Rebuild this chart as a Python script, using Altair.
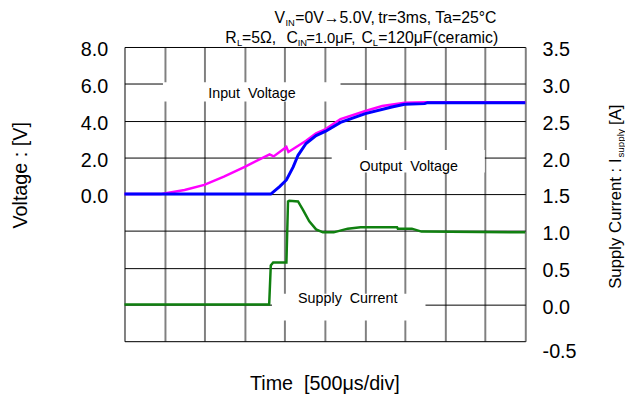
import altair as alt
import pandas as pd

FONT = "Liberation Sans"
NB = "\u00a0"

# time in divisions (500 us/div)
T_IN = [0, 0.9, 1.03, 1.50, 1.99, 2.48, 3.0, 3.62, 3.72, 4.04, 4.09, 4.53, 4.78, 5.02, 5.39, 6.01, 6.43, 6.99, 7.5, 10]
V_IN = [0, 0, 0.05, 0.22, 0.5, 0.95, 1.48, 2.16, 2.05, 2.56, 2.29, 2.9, 3.3, 3.54, 4.08, 4.52, 4.79, 4.97, 5.0, 5.0]

T_OUT = [0, 3.65, 3.87, 4.04, 4.21, 4.33, 4.53, 4.78, 5.02, 5.39, 6.01, 6.67, 6.99, 7.49, 7.56, 10]
V_OUT = [0, 0, 0.41, 0.77, 1.48, 2.11, 2.75, 3.18, 3.42, 3.9, 4.38, 4.74, 4.89, 4.92, 4.97, 4.97]

T_I = [0, 3.61, 3.65, 3.71, 4.04, 4.08, 4.11, 4.33, 4.45, 4.61, 4.78, 4.95, 5.22, 5.57, 5.89, 6.80, 6.82, 7.17, 7.41, 10]
I_S = [0, 0, 0.53, 0.57, 0.57, 1.40, 1.41, 1.40, 1.29, 1.13, 1.02, 0.98, 0.98, 1.03, 1.05, 1.05, 1.03, 1.03, 0.99, 0.98]

X_TICKS = list(range(11))
V_TICKS = [0, 2, 4, 6, 8]
A_TICKS = [-0.5, 0.0, 0.5, 1.0, 1.5, 2.0, 2.5, 3.0, 3.5]

# in-plot labels (x in div, y in A units) and their white boxes
LABELS = ["Input" + NB + " Voltage", "Output" + NB + " Voltage", "Supply" + NB + " Current"]
LABEL_X = [3.18, 7.09, 5.57]
LABEL_Y = [2.856, 1.862, 0.076]
BOX_X1 = [0.96, 5.17, 3.68]
BOX_X2 = [5.39, 8.99, 7.51]
BOX_Y1 = [2.76, 1.795, -0.218]
BOX_Y2 = [3.02, 2.10, 0.144]

# header pieces: text, x, y (px relative to plot area), font size
HEADER = [
    ("V", 152, -24, 16), ("IN", 163, -21, 9.5), ("=0V\u21925.0V,", 173, -24, 16),
    ("tr=3ms, Ta=25\u00b0C", 257, -24, 16),
    ("R", 102, -4, 16), ("L", 114, -1, 9.5), ("=5\u03a9,", 119, -4, 16), ("C", 164, -4, 16),
    ("IN", 175.5, -1, 9.5), ("=1.0\u03bcF,", 184, -4, 15), ("C", 240, -4, 16), ("L", 251.5, -1, 9.5),
    ("=120\u03bcF(ceramic)", 257, -4, 16),
]
RIGHT_TITLE = [("Supply Current : I", 503, 245, 17), ("supply", 505.5, 112, 10), ("[A]", 503, 79, 17)]

W, H = 406, 298

x_axis = alt.Axis(values=X_TICKS, labels=False, ticks=False, domain=False, grid=True,
                  gridColor="#808080", gridWidth=2, title=None)
x_scale = alt.Scale(domain=[0, 10], nice=False, zero=False)
v_axis = alt.Axis(orient="left", values=V_TICKS, format=".1f", grid=False, ticks=False, domain=False,
                  labelFont=FONT, labelFontSize=20, labelColor="black", labelPadding=17,
                  labelOffset=3, title=None)
v_scale = alt.Scale(domain=[-8, 8], nice=False, zero=False)
a_axis = alt.Axis(orient="right", values=A_TICKS, format=".1f", grid=True, gridColor="black",
                  gridWidth=1, ticks=False, domain=False, labelFont=FONT, labelFontSize=20,
                  labelColor="black", labelPadding=17,
                  labelExpr="replace(datum.label, '\u2212', '-')",
                  labelOffset={"condition": {"test": "datum.value < 0", "value": 11}, "value": 3},
                  title=None)
a_scale = alt.Scale(domain=[-0.5, 3.5], nice=False, zero=False)

df_in = pd.DataFrame({"t": T_IN, "v": V_IN})
df_out = pd.DataFrame({"t": T_OUT, "v": V_OUT})
df_i = pd.DataFrame({"t": T_I, "a": I_S})
df_lab = pd.DataFrame({"t": LABEL_X, "a": LABEL_Y, "label": LABELS})
df_box = pd.DataFrame({"x1": BOX_X1, "x2": BOX_X2, "y1": BOX_Y1, "y2": BOX_Y2})

in_line = alt.Chart(df_in).mark_line(color="#FF00FF", strokeWidth=2.5).encode(
    x=alt.X("t:Q", scale=x_scale, axis=x_axis),
    y=alt.Y("v:Q", scale=v_scale, axis=v_axis))
out_line = alt.Chart(df_out).mark_line(color="#0000FF", strokeWidth=3).encode(
    x=alt.X("t:Q", scale=x_scale, axis=x_axis),
    y=alt.Y("v:Q", scale=v_scale, axis=v_axis))

boxes = alt.Chart(df_box).mark_rect(color="white").encode(
    x=alt.X("x1:Q", scale=x_scale, axis=x_axis), x2="x2:Q",
    y=alt.Y("y1:Q", scale=a_scale, axis=a_axis), y2="y2:Q")
cur_line = alt.Chart(df_i).mark_line(color="#108010", strokeWidth=2.5).encode(
    x=alt.X("t:Q", scale=x_scale, axis=x_axis),
    y=alt.Y("a:Q", scale=a_scale, axis=a_axis))
labels = alt.Chart(df_lab).mark_text(font=FONT, fontSize=14.5, color="black", baseline="middle").encode(
    x=alt.X("t:Q", scale=x_scale, axis=x_axis),
    y=alt.Y("a:Q", scale=a_scale, axis=a_axis),
    text="label:N")

one = pd.DataFrame({"k": [0]})
annots = []
for txt, px, py, fs in HEADER:
    annots.append(alt.Chart(one).mark_text(text=txt, font=FONT, fontSize=fs, align="left",
                                           baseline="alphabetic", color="black")
                  .encode(x=alt.value(px), y=alt.value(py)))
annots.append(alt.Chart(one).mark_text(text="Time" + NB + " [500\u03bcs/div]", font=FONT, fontSize=20,
                                       align="center", baseline="alphabetic", color="black")
              .encode(x=alt.value(W / 2), y=alt.value(347)))
annots.append(alt.Chart(one).mark_text(text="Voltage : [V]", font=FONT, fontSize=20, angle=270,
                                       align="center", baseline="middle", color="black")
              .encode(x=alt.value(-105), y=alt.value(130)))
for txt, px, py, fs in RIGHT_TITLE:
    annots.append(alt.Chart(one).mark_text(text=txt, font=FONT, fontSize=fs, angle=270, align="left",
                                           baseline="alphabetic", color="black")
                  .encode(x=alt.value(px), y=alt.value(py)))

volt = alt.layer(in_line, out_line)
curr = alt.layer(boxes, cur_line, labels)

chart = alt.layer(volt, curr, *annots).resolve_scale(y="independent").properties(
    width=W, height=H,
    padding={"left": 118, "top": 37, "right": 101, "bottom": 52},
    autosize=alt.AutoSizeParams(type="none"),
).configure_view(stroke="#333333", strokeWidth=2).configure(background="white")

chart.save("out.html", embed_options={"renderer": "svg", "actions": False})
